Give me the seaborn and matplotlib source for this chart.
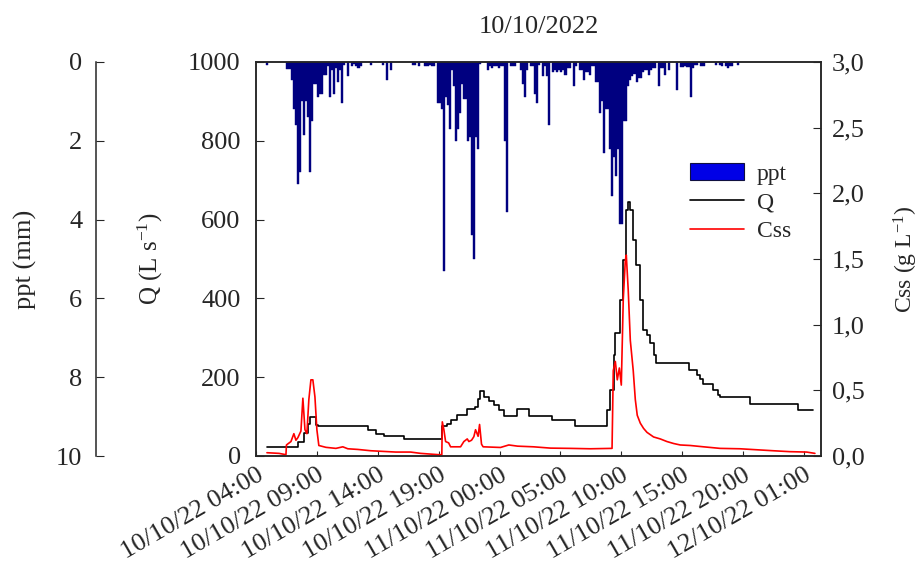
import numpy as np
import pandas as pd
import matplotlib
matplotlib.use("Agg")
import matplotlib.pyplot as plt
from matplotlib.patches import Patch
from matplotlib.lines import Line2D
from matplotlib.ticker import FuncFormatter
import matplotlib.dates as mdates
import seaborn as sns

# time origin of the record (first x tick)
start = pd.Timestamp("2022-10-10 04:00")
end_hours = 46.4

# precipitation, 10 min slots counted from 10/10/22 04:00 (only non zero slots)
ppt_slot = [5,
            15, 16, 17, 18, 19, 20, 21, 22, 23, 24, 25, 26, 27, 28, 29, 30, 31, 32, 33, 34,
            35, 36, 37, 38, 39, 40, 41, 42, 43,
            45, 47, 48, 49, 50, 51, 56, 62, 64, 66, 77, 78, 80, 83, 84, 85, 86, 87,
            89, 90, 91, 92, 93, 94, 95, 96, 97, 98, 99, 100, 101, 102, 103, 104, 105, 106,
            107, 108, 109, 110,
            114, 115, 116, 117, 118, 119, 120, 121, 122, 123, 125, 126, 127, 130, 131, 132,
            133, 135, 136, 137, 138, 139, 141, 142, 143, 144, 146, 147, 148, 149, 150, 151,
            152, 153, 154, 156, 157, 159, 160, 161, 162, 163, 164, 165, 166, 167, 168, 169,
            170, 171, 172, 173, 174, 175, 176, 177, 178, 179, 180, 181, 182, 183, 184, 185,
            186, 187, 188, 189, 190, 191, 192, 193, 194, 195, 196, 198, 199, 200, 201, 203,
            207, 209, 210, 211, 212, 213, 214, 215, 216, 217, 219, 220, 226, 228, 229, 231,
            232, 233, 234, 237]
ppt_mm = [0.08,
          0.18, 0.18, 0.45, 1.2, 1.6, 3.1, 2.8, 1.0, 1.85, 1.0, 1.4, 2.8, 1.5, 0.55, 0.55, 0.9, 0.8, 0.8, 0.33, 0.33,
          0.1, 0.9, 0.2, 0.8, 0.15, 0.5, 0.2, 1.05, 0.08,
          0.35, 0.1, 0.05, 0.1, 0.15, 0.1, 0.08, 0.08, 0.45, 0.2, 0.08, 0.08, 0.1, 0.1, 0.1, 0.08, 0.1, 0.1,
          1.05, 1.05, 1.2, 5.3, 0.9, 1.1, 1.7, 0.2, 0.6, 2.0, 1.7, 1.3, 0.55, 0.95, 0.95, 2.0, 1.9, 4.4,
          5.0, 1.9, 2.2, 0.05,
          0.2, 0.1, 0.15, 0.1, 0.1, 0.15, 0.1, 0.1, 2.0, 3.8, 0.1, 0.1, 0.1, 0.2, 0.55, 0.9,
          0.2, 0.1, 0.1, 0.8, 1.05, 0.08, 0.35, 0.1, 0.35, 1.6, 0.25, 0.2, 0.25, 0.2, 0.25, 0.2,
          0.33, 0.15, 0.15, 0.6, 0.1, 0.2, 0.2, 0.45, 0.25, 0.25, 0.33, 0.1, 0.1, 0.5, 0.5, 1.3,
          1.0, 2.3, 1.2, 1.2, 2.2, 3.4, 2.4, 2.9, 2.2, 4.1, 4.1, 1.5, 1.5, 0.6, 0.45, 0.35,
          0.3, 0.5, 0.4, 0.4, 0.25, 0.2, 0.2, 0.33, 0.2, 0.15, 0.15, 0.6, 0.15, 0.15, 0.33, 0.2,
          0.7, 0.12, 0.12, 0.1, 0.12, 0.12, 0.9, 0.15, 0.08, 0.08, 0.1, 0.1, 0.08, 0.08, 0.1, 0.1,
          0.15, 0.1, 0.1, 0.08]

# discharge Q (L/s), hours after 10/10/22 04:00
q_hours = [0.90, 3.42, 3.96, 4.24, 4.43, 4.92, 5.08, 6.56, 9.16, 9.84, 10.52, 12.16,
           15.30, 15.71, 15.98, 16.53, 17.35, 17.95, 18.20, 18.39, 18.71, 19.12, 19.53,
           19.94, 20.35, 21.45, 22.40, 24.32, 26.23, 28.55, 28.83, 29.10, 29.37, 29.51,
           29.92, 30.16, 30.41, 30.57, 30.74, 30.98, 31.23, 31.56, 31.80, 32.11, 32.38,
           32.65, 32.87, 35.52, 36.20, 36.48, 36.75, 37.57, 37.98, 38.11, 40.57, 44.53, 45.76]
q_ls = [22, 36, 58, 80, 99, 79, 75, 77, 66, 56, 51, 43,
        75, 80, 91, 104, 119, 125, 145, 166, 150, 140, 129,
        117, 102, 119, 102, 91, 77, 77, 117, 168, 256, 311,
        396, 497, 624, 645, 624, 548, 485, 396, 320, 307, 287,
        256, 236, 218, 206, 195, 183, 168, 155, 150, 132, 118, 118]

# suspended sediment concentration Css (g/L)
css_hours = [0.90, 1.89, 2.46, 2.50, 2.87, 3.11, 3.28, 3.44, 3.69, 3.85, 4.02, 4.18, 4.34,
             4.51, 4.67, 4.84, 5.00, 5.16, 5.74, 6.56, 7.13, 7.54, 8.36, 9.43, 11.48,
             12.70, 13.52, 15.00, 15.26, 15.30, 15.43, 15.57, 15.82, 15.98, 16.80, 17.07,
             17.35, 17.48, 17.70, 17.89, 18.03, 18.24, 18.36, 18.52, 18.65, 20.08, 20.76,
             21.48, 22.79, 24.18, 25.82, 27.46, 29.24, 29.34, 29.51, 29.67, 29.84, 30.00,
             30.16, 30.33, 30.41, 30.57, 30.74, 30.98, 31.15, 31.31, 31.56, 31.83, 32.11,
             32.65, 33.20, 33.75, 34.30, 34.84, 35.66, 36.75, 38.11, 39.75, 42.48, 43.85,
             45.22, 45.90]
css_gl = [0.025, 0.02, 0.01, 0.084, 0.11, 0.17, 0.12, 0.14, 0.19, 0.44, 0.2, 0.17, 0.43,
          0.58, 0.58, 0.45, 0.2, 0.08, 0.066, 0.058, 0.07, 0.055, 0.05, 0.04, 0.03,
          0.03, 0.02, 0.01, 0.01, 0.26, 0.2, 0.11, 0.1, 0.07, 0.07, 0.11,
          0.13, 0.11, 0.12, 0.147, 0.2, 0.15, 0.24, 0.09, 0.07, 0.065, 0.084,
          0.075, 0.07, 0.06, 0.058, 0.055, 0.058, 0.65, 0.72, 0.58, 0.67, 0.54,
          1.19, 1.49, 1.53, 1.26, 0.88, 0.65, 0.43, 0.31, 0.25, 0.21, 0.18,
          0.145, 0.13, 0.11, 0.095, 0.084, 0.08, 0.07, 0.058, 0.055, 0.04, 0.033,
          0.03, 0.02]

ppt_time = start + pd.to_timedelta(np.array(ppt_slot) * 10, unit="min")
q_time = start + pd.to_timedelta(q_hours, unit="h")
css_time = start + pd.to_timedelta(css_hours, unit="h")

sns.set_style("ticks")
plt.rcParams["font.family"] = ["Liberation Serif", "DejaVu Serif"]
plt.rcParams["mathtext.default"] = "regular"

fig = plt.figure(figsize=(9.21, 5.67), dpi=100)
ax = fig.add_axes([256 / 921, 1 - 456 / 567, 565 / 921, 394 / 567])
ax_c = ax.twinx()
ax_p = ax.twinx()

# ppt on an inverted axis hanging from the top, behind the lines
ax_p.set_zorder(ax.get_zorder() - 1)
ax.patch.set_visible(False)
ax_p.bar(ppt_time, ppt_mm, width=pd.Timedelta(minutes=10), align="edge",
         color="#000080", edgecolor="#000080", linewidth=0.3)
ax_p.set_ylim(10, 0)
ax_p.set_yticks([0, 2, 4, 6, 8, 10])
ax_p.spines["left"].set_position(("outward", 115))
ax_p.spines["left"].set_visible(True)
for s in ["right", "top", "bottom"]:
    ax_p.spines[s].set_visible(False)
ax_p.yaxis.set_ticks_position("left")
ax_p.yaxis.set_label_position("left")
ax_p.tick_params(axis="y", direction="in", length=5.5, pad=10, labelsize=19)
ax_p.set_ylabel("ppt (mm)", fontsize=19)
ax_p.yaxis.set_label_coords(-0.388, 0.5)

sns.lineplot(x=q_time, y=q_ls, ax=ax, color="black", lw=1.2,
             drawstyle="steps-post", estimator=None, sort=False)
sns.lineplot(x=css_time, y=css_gl, ax=ax_c, color="red", lw=1.2,
             estimator=None, sort=False)

ax.set_xlim(start, start + pd.Timedelta(hours=end_hours))
ax.set_ylim(0, 1000)
ax.set_yticks([0, 200, 400, 600, 800, 1000])
ax_c.set_ylim(0, 3.0)
ax_c.set_yticks(np.arange(0, 3.01, 0.5))
ax_c.yaxis.set_major_formatter(FuncFormatter(lambda v, p: f"{v:.1f}".replace(".", ",")))

xt = pd.date_range(start, periods=10, freq="5h")
ax.set_xticks(xt)
ax.xaxis.set_major_formatter(mdates.DateFormatter("%d/%m/%y %H:%M"))
for lab in ax.get_xticklabels():
    lab.set_rotation(30)
    lab.set_ha("right")
    lab.set_rotation_mode("anchor")

ax.tick_params(axis="y", direction="in", length=5.5, pad=11, labelsize=19)
ax.tick_params(axis="x", direction="in", length=3.5, pad=6, labelsize=19)
ax_c.tick_params(axis="y", direction="in", length=5.5, pad=8, labelsize=19)

ax.set_ylabel("Q (L s$^{-1}$)", fontsize=18)
ax.yaxis.set_label_coords(-0.161, 0.5)
ax.set_xlabel("")
ax_c.set_ylabel("Css (g L$^{-1}$)", fontsize=17)
ax_c.yaxis.set_label_coords(1.126, 0.5)

for a in (ax, ax_c):
    for s in a.spines.values():
        s.set_linewidth(1.1)
ax_p.spines["left"].set_linewidth(1.1)

ax.set_title("10/10/2022", fontsize=19, pad=21)

handles = [Patch(facecolor="#0000e6", edgecolor="#101040", linewidth=0.8),
           Line2D([], [], color="black", lw=1.2),
           Line2D([], [], color="red", lw=1.2)]
ax_c.legend(handles, ["ppt", "Q", "Css"], loc="upper left",
            bbox_to_anchor=(0.749, 0.712), bbox_transform=fig.transFigure,
            frameon=False, fontsize=17, handlelength=2.3, handletextpad=0.55,
            labelspacing=0.3, borderpad=0, borderaxespad=0)

fig.savefig("out.png", dpi=100)
